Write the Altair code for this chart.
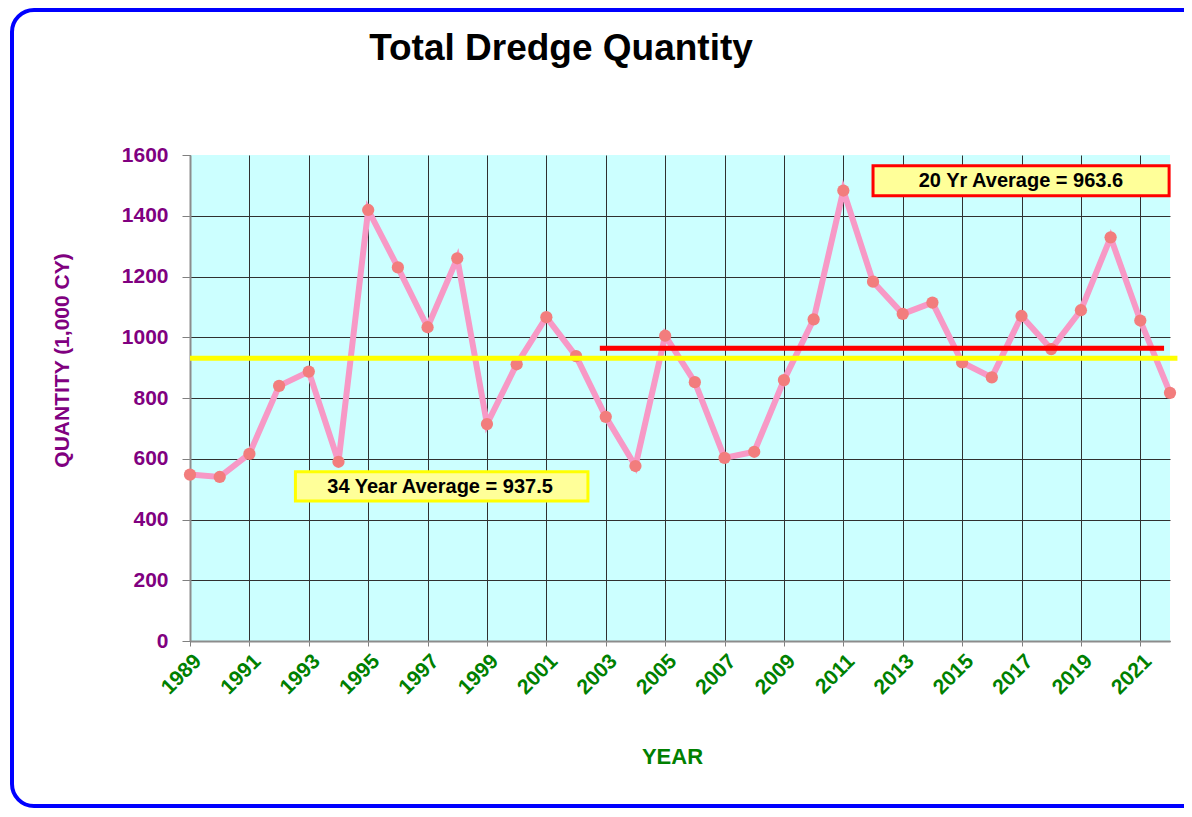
import altair as alt
import pandas as pd

# ---- data ----
years = list(range(1989, 2023))
quantity = [548, 540, 616, 840, 887, 590, 1419, 1230, 1033, 1260,
            714, 911, 1066, 938, 738, 576, 1005, 852, 603, 623,
            859, 1059, 1483, 1183, 1077, 1114, 917, 868, 1070, 961,
            1089, 1329, 1055, 817]

y_ticks = [0, 200, 400, 600, 800, 1000, 1200, 1400, 1600]

avg_names = ["34 Year Average = 937.5", "20 Yr Average = 963.6"]
avg_level = [931, 963.6]
avg_start = [1989, 2002.8]
avg_end = [2022.25, 2021.8]
avg_color = ["#ffff00", "#ff0000"]

box_x = [1992.55, 2012.0]
box_x2 = [2002.4, 2021.97]
box_y = [461, 1466]
box_y2 = [557, 1565]
box_stroke = ["#ffff00", "#ff0000"]
label_x = [1997.42, 2016.98]
label_y = [508, 1515]
label_size = [20, 20]

FONT = "Liberation Sans"

df = pd.DataFrame({"year": years, "qty": quantity})
avg_df = pd.DataFrame({"start": avg_start, "end": avg_end, "level": avg_level,
                       "color": avg_color, "name": avg_names})
box_df = pd.DataFrame({"x": box_x, "x2": box_x2, "y": box_y, "y2": box_y2,
                       "stroke": box_stroke, "lx": label_x, "ly": label_y,
                       "name": avg_names, "size": label_size})

xscale = alt.Scale(domain=[1989, 2022], nice=False, zero=False)
yscale = alt.Scale(domain=[0, 1600], nice=False)

x_axis = alt.Axis(
    values=years, format="d",
    labelExpr="datum.value % 2 == 1 ? datum.label : ''",
    labelAngle=-45, labelFont=FONT, labelFontSize=21, labelFontWeight="bold",
    labelColor="#008000", labelOverlap=False, labelFlush=False, labelPadding=4,
    tickSize=5, tickColor="#808080", tickWidth=1,
    domainColor="#8c8c8c", domainWidth=2,
    grid=True, gridColor="#303030", gridWidth=1,
    gridOpacity=alt.condition("datum.value >= 2022", alt.value(0), alt.value(1)),
    title="YEAR", titleFont=FONT, titleFontSize=22, titleFontWeight="bold",
    titleColor="#008000", titleX=482, titleY=115, titleAlign="center",
    titleBaseline="middle",
)
y_axis = alt.Axis(
    values=y_ticks, format="d",
    labelFont=FONT, labelFontSize=21, labelFontWeight="bold", labelColor="#800080",
    labelPadding=14, tickSize=8, tickColor="#808080", tickWidth=1,
    domainColor="#8c8c8c", domainWidth=2,
    grid=True, gridColor="#303030", gridWidth=1,
    gridOpacity=alt.condition("datum.value >= 1600", alt.value(0), alt.value(1)),
    title="QUANTITY (1,000 CY)", titleFont=FONT, titleFontSize=21,
    titleFontWeight="bold", titleColor="#800080", titleX=-128, titleY=205,
    titleAngle=-90, titleAlign="center", titleBaseline="middle",
)

base = alt.Chart(df)

line = base.mark_line(color="#f799c6", strokeWidth=6).encode(
    x=alt.X("year:Q", scale=xscale, axis=x_axis),
    y=alt.Y("qty:Q", scale=yscale, axis=y_axis),
)
points = base.mark_circle(color="#f27d7d", opacity=1, size=150).encode(
    x=alt.X("year:Q", scale=xscale),
    y=alt.Y("qty:Q", scale=yscale),
)

avg_lines = alt.Chart(avg_df).mark_rule(strokeWidth=5).encode(
    x=alt.X("start:Q", scale=xscale),
    x2="end:Q",
    y=alt.Y("level:Q", scale=yscale),
    color=alt.Color("color:N", scale=None),
)

boxes = alt.Chart(box_df).mark_rect(fill="#ffff99", strokeWidth=3).encode(
    x=alt.X("x:Q", scale=xscale), x2="x2:Q",
    y=alt.Y("y:Q", scale=yscale), y2="y2:Q",
    stroke=alt.Stroke("stroke:N", scale=None),
)
box_text = alt.Chart(box_df).mark_text(
    font=FONT, fontWeight="bold", color="black", align="center", baseline="middle"
).encode(
    x=alt.X("lx:Q", scale=xscale),
    y=alt.Y("ly:Q", scale=yscale),
    text="name:N",
    size=alt.Size("size:Q", scale=None),
)

one = pd.DataFrame({"t": ["Total Dredge Quantity"]})
title = alt.Chart(one).mark_text(
    font=FONT, fontWeight="bold", fontSize=37, color="black",
    align="center", baseline="alphabetic"
).encode(text="t:N", x=alt.value(371), y=alt.value(-95))

frame = alt.Chart(one).mark_rect(
    fill="transparent", stroke="#0000ff", strokeWidth=4, cornerRadius=22
).encode(x=alt.value(-178), x2=alt.value(1040), y=alt.value(-145), y2=alt.value(651))

chart = alt.layer(
    line, points, avg_lines, boxes, box_text, title, frame
).properties(
    width=980, height=486,
    autosize="none",
    padding={"left": 182, "top": 147, "right": 14, "bottom": 168},
    background="white",
).configure_view(fill="#ccffff", strokeWidth=0)

chart.save("out.html", embed_options={"renderer": "svg", "actions": False})
